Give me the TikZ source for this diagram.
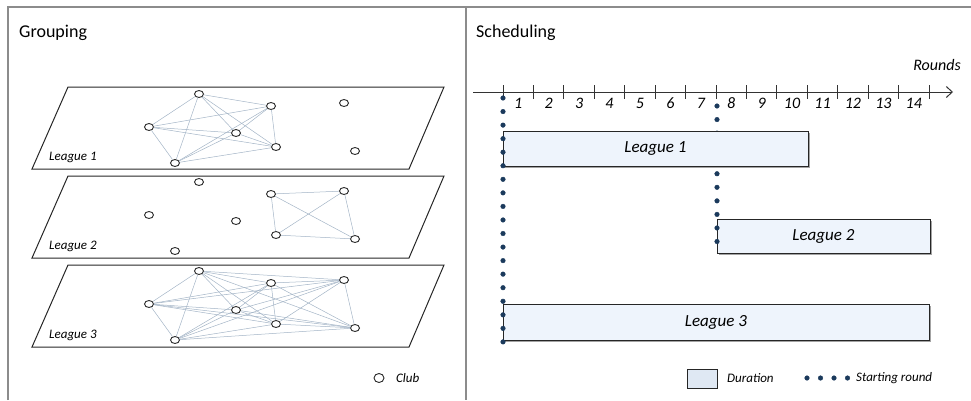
\documentclass[tikz,border=0pt]{standalone}
\usepackage{fontspec}
\setmainfont{Carlito}
\usetikzlibrary{shapes.geometric,arrows.meta,shadows,decorations.markings}
\definecolor{framegray}{HTML}{8C8C8C}
\definecolor{edgeblue}{HTML}{A3B4C6}
\definecolor{dotblue}{HTML}{1B3A5C}
\definecolor{boxfill}{HTML}{EEF4FC}
\definecolor{legfill}{HTML}{DFE8F3}
\begin{document}
\begin{tikzpicture}[x=1pt,y=-1pt,
  frameline/.style={draw=framegray, line width=1.2pt},
  plane/.style={draw=black!85, line width=1pt},
  club/.style={ellipse, draw=black!85, fill=white, line width=0.9pt, minimum width=9pt, minimum height=7pt, inner sep=0pt},
  edgeline/.style={draw=edgeblue, line width=0.5pt},
  lbl/.style={font=\fontsize{13}{15}\selectfont\itshape, inner sep=0pt},
  ttl/.style={font=\fontsize{18}{21}\selectfont, inner sep=0pt},
  axisline/.style={draw=black!80, line width=1pt},
  num/.style={font=\fontsize{16}{18}\selectfont\itshape, inner sep=0pt},
  dur/.style={draw=black!85, line width=1pt, fill=boxfill, inner sep=0pt,
    font=\fontsize{17}{20}\selectfont\itshape,
    drop shadow={shadow xshift=1.8pt, shadow yshift=-1.8pt, opacity=0.6, fill=black!60}},
  dotmark/.style={fill=dotblue, draw=dotblue, line width=0.4pt},
  startdots/.style={postaction={decorate}, decoration={markings,
    mark=between positions 0 and 1 step 13.55pt with {\path[dotmark] (0,0) circle (2.3pt);}}}
]
\useasboundingbox (0,0) rectangle (971,400);

% frame
\draw[frameline] (8,400) -- (8,7) -- (971,7);
\draw[frameline] (466,7) -- (466,400);

% titles
\node[ttl, anchor=west] (tgroup) at (19,33) {Grouping};
\node[ttl, anchor=west] (tsched) at (476,33) {Scheduling};

% ---------------- Left panel: planes ----------------
\foreach \l/\dy in {1/0,2/89,3/178} {
  \draw[plane] (68,87+\dy) -- (444,87+\dy) -- (409,169+\dy) -- (32,169+\dy) -- cycle;
  \node[lbl, anchor=west] (plab\l) at (49,157+\dy) {League \l};
}

% clubs
\foreach \l/\dy in {1/0,2/88,3/177} {
  \foreach \n/\x/\y in {A/199/94, B/271/106, C/344/103, D/149/127, E/236/133, F/276/147, G/355/151, H/175/163} {
    \node[club] (\n\l) at (\x,\y+\dy) {};
  }
}

% edges league 1: complete graph on A,B,D,E,F,H
\foreach \u [count=\i] in {A,B,D,E,F,H} {
  \foreach \v [count=\j] in {A,B,D,E,F,H} {
    \ifnum\i<\j \draw[edgeline] (\u1) -- (\v1); \fi
  }
}
% league 2: complete graph on B,C,F,G
\foreach \u [count=\i] in {B,C,F,G} {
  \foreach \v [count=\j] in {B,C,F,G} {
    \ifnum\i<\j \draw[edgeline] (\u2) -- (\v2); \fi
  }
}
% league 3: complete graph on all
\foreach \u [count=\i] in {A,B,C,D,E,F,G,H} {
  \foreach \v [count=\j] in {A,B,C,D,E,F,G,H} {
    \ifnum\i<\j \draw[edgeline] (\u3) -- (\v3); \fi
  }
}

% club legend
\node[club, minimum width=10pt, minimum height=9pt] (clubleg) at (379,378) {};
\node[lbl, anchor=west] (clubtxt) at (396,378) {Club};

% ---------------- Right panel ----------------
\coordinate (ax0) at (473,92);
\coordinate (ax1) at (953,92);
\draw[axisline, -{Straight Barb[length=6pt,width=11pt]}] (ax0) -- (ax1);
\foreach \k in {0,...,14} {
  \coordinate (t\k) at ({503+30.43*\k},92);
  \draw[axisline] ([yshift=7pt]t\k) -- ([yshift=-7pt]t\k);
}
\foreach \k in {1,...,14} {
  \node[num] (r\k) at ({503+30.43*(\k-0.5)},103) {\k};
}
\node[num, anchor=east] (rounds) at (961,65) {Rounds};

% boxes
\node[dur, minimum width=213pt, minimum height=34pt] (b2) at (823.5,236) {League 2};
\node[dur, minimum width=426pt, minimum height=36pt] (b3) at (716,322) {League 3};

\coordinate (s2a) at (717,106);
\coordinate (s2b) at (717,255);
\path[startdots] (s2a) -- (s2b);

\node[dur, minimum width=305pt, minimum height=35pt] (b1) at (655.5,148.5) {League 1};

\coordinate (s1a) at (503,98);
\coordinate (s1b) at (503,343);
\path[startdots] (s1a) -- (s1b);

% legend
\node[draw=black!85, line width=1pt, fill=legfill, minimum width=30pt, minimum height=19pt, inner sep=0pt] (legbox) at (702,378.5) {};
\node[lbl, anchor=west] (durtxt) at (727,378) {Duration};
\coordinate (ld0) at (807,378);
\coordinate (ld1) at (848,378);
\path[decorate, decoration={markings, mark=between positions 0 and 1 step 13.5pt with {\path[dotmark] (0,0) circle (2.3pt);}}] (ld0) -- (ld1);
\node[lbl, anchor=west] (starttxt) at (856,378) {Starting round};
\end{tikzpicture}
\end{document}
